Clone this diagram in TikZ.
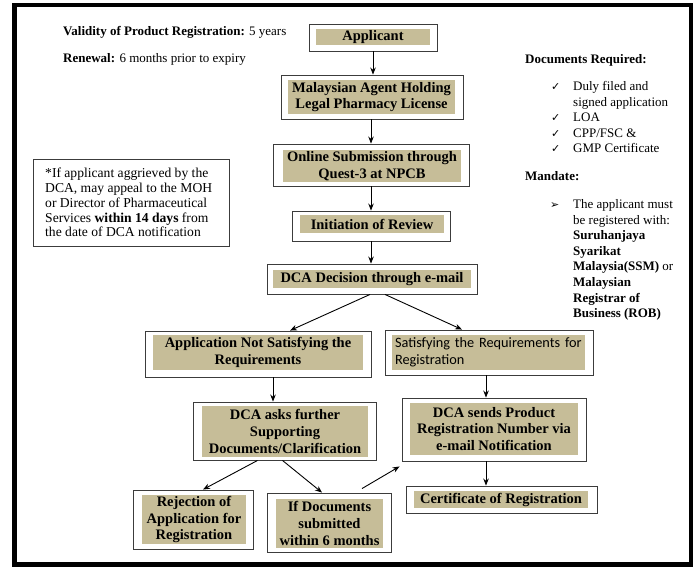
\documentclass[tikz,border=0pt]{standalone}
\usepackage{fontspec}
\setmainfont{Liberation Serif}[BoldFont={Liberation Serif Bold}, ItalicFont={Liberation Serif Italic}]
\newfontfamily\calibri{Carlito}
\newfontfamily\dejavu{DejaVu Sans}
\usetikzlibrary{arrows.meta}
\definecolor{tan}{RGB}{198,189,152}
\definecolor{boxline}{RGB}{60,60,60}
\tikzset{
  outerbox/.style={draw=boxline, line width=0.9pt, fill=white, inner sep=0pt},
  tanbox/.style={fill=tan, inner sep=0pt, align=center, font=\fontsize{14.5}{16.8}\selectfont\bfseries},
  arr/.style={-{Stealth[length=7pt,width=5.5pt]}, line width=0.9pt},
  side/.style={anchor=base west, inner sep=0pt, font=\fontsize{13}{15}\selectfont},
  bulletsym/.style={anchor=base west, inner sep=0pt, font=\dejavu\fontsize{11}{12}\selectfont},
}
\begin{document}
\begin{tikzpicture}[x=1pt,y=-1pt]
\useasboundingbox (0,0) rectangle (696,568);
\draw[line width=4.5pt] (14.5,5) rectangle (691,564.5);

% boxes
\node[outerbox, minimum width=128pt, minimum height=27pt] (app) at (373,37.5) {};
\node[tanbox, minimum width=114pt, minimum height=16pt] (app-t) at (373,37) {Applicant};

\node[outerbox, minimum width=182pt, minimum height=44pt] (mal) at (372,97) {};
\node[tanbox, minimum width=167pt, minimum height=34pt] (mal-t) at (371.5,97) {Malaysian Agent Holding\\Legal Pharmacy License};

\node[outerbox, minimum width=196pt, minimum height=42pt] (onl) at (371,165) {};
\node[tanbox, minimum width=178pt, minimum height=32pt] (onl-t) at (372,166) {Online Submission through\\Quest-3 at NPCB};

\node[outerbox, minimum width=158pt, minimum height=30pt] (ini) at (371,226) {};
\node[tanbox, minimum width=144pt, minimum height=18pt] (ini-t) at (372,224) {Initiation of Review};

\node[outerbox, minimum width=210pt, minimum height=30pt] (dca) at (372,279) {};
\node[tanbox, minimum width=198pt, minimum height=18pt] (dca-t) at (372,279) {DCA Decision through e-mail};

\node[outerbox, minimum width=226pt, minimum height=46pt] (ans) at (258,354) {};
\node[tanbox, minimum width=210pt, minimum height=35pt] (ans-t) at (258,352.5) {Application Not Satisfying the\\Requirements};

\node[outerbox, minimum width=208pt, minimum height=45pt] (sat) at (489,352.5) {};
\node[fill=tan, inner xsep=3pt, inner ysep=0pt, text width=187pt, align=left, minimum height=35pt,
      font=\calibri\fontsize{14.3}{16.7}\selectfont] (sat-t) at (488.5,352.5) {Satisfying the Requirements for\\Registration};

\node[outerbox, minimum width=183pt, minimum height=58pt] (ask) at (284.5,431) {};
\node[tanbox, minimum width=166pt, minimum height=51pt] (ask-t) at (285,431.5) {DCA asks further\\Supporting\\Documents/Clarification};

\node[outerbox, minimum width=184pt, minimum height=63pt] (snd) at (494,429.5) {};
\node[tanbox, minimum width=168pt, minimum height=52pt] (snd-t) at (494,429) {DCA sends Product\\Registration Number via\\e-mail Notification};

\node[outerbox, minimum width=191pt, minimum height=27pt] (cert) at (501.5,499.5) {};
\node[tanbox, minimum width=174pt, minimum height=17pt] (cert-t) at (501,499.5) {Certificate of Registration};

\node[outerbox, minimum width=120pt, minimum height=59pt] (rej) at (193,519.5) {};
\node[tanbox, minimum width=104pt, minimum height=49pt] (rej-t) at (194,519.5) {Rejection of\\Application for\\Registration};

\node[outerbox, minimum width=124pt, minimum height=59pt] (ifd) at (329,522.5) {};
\node[tanbox, minimum width=107pt, minimum height=49pt] (ifd-t) at (329.5,523.5) {If Documents\\submitted\\within 6 months};

% note box
\node[outerbox, minimum width=196pt, minimum height=87pt] (note) at (131,202.5) {};
\node[anchor=west, inner sep=0pt, align=left, font=\fontsize{13.6}{14.8}\selectfont] (note-t) at (45,202.5)
  {*If applicant aggrieved by the\\DCA, may appeal to the MOH\\or Director of Pharmaceutical\\Services \textbf{within 14 days} from\\the date of DCA notification};

% side texts
\node[side] (val) at (63,35) {\textbf{Validity of Product Registration:} 5 years};
\node[side] (ren) at (63,62.5) {\textbf{Renewal:} 6 months prior to expiry};

\node[side] (docs) at (525,63.5) {\textbf{Documents Required:}};
\node[bulletsym] (c1) at (551,90.5) {✓};
\node[side] (d1) at (573,90.5) {Duly filed and};
\node[side] (d1b) at (573,106) {signed application};
\node[bulletsym] (c2) at (551,121.5) {✓};
\node[side] (d2) at (573,121.5) {LOA};
\node[bulletsym] (c3) at (551,137) {✓};
\node[side] (d3) at (573,137) {CPP/FSC \&};
\node[bulletsym] (c4) at (551,152.5) {✓};
\node[side] (d4) at (573,152.5) {GMP Certificate};

\node[side] (man) at (525,180.5) {\textbf{Mandate:}};
\node[bulletsym] (b1) at (550,208.5) {➢};
\node[side] (m1) at (573,208.5) {The applicant must};
\node[side] (m2) at (573,224.1) {be registered with:};
\node[side] (m3) at (573,239.7) {\textbf{Suruhanjaya}};
\node[side] (m4) at (573,255.3) {\textbf{Syarikat}};
\node[side] (m5) at (573,270.9) {\textbf{Malaysia(SSM)} or};
\node[side] (m6) at (573,286.5) {\textbf{Malaysian}};
\node[side] (m7) at (573,302.1) {\textbf{Registrar of}};
\node[side] (m8) at (573,317.7) {\textbf{Business (ROB)}};

% connectors
\draw[arr] (app.south) -- (app.south |- mal.north);
\draw[arr] ([xshift=-1pt]mal.south) -- ([xshift=-1pt]mal.south |- onl.north);
\draw[arr] (onl.south) -- (onl.south |- ini.north);
\draw[arr] (ini.south) -- (ini.south |- dca.north);
\draw[arr] ([xshift=-2pt]dca.south) -- ([xshift=32pt]ans.north);
\draw[arr] ([xshift=13pt]dca.south) -- ([xshift=-27pt]sat.north);
\draw[arr] ([xshift=15pt]ans.south) -- ([xshift=15pt]ans.south |- ask.north);
\draw[arr] ([xshift=-3pt]sat.south) -- ([xshift=-3pt]sat.south |- snd.north);
\draw[arr] ([xshift=-8pt]snd.south) -- ([xshift=-8pt]snd.south |- cert.north);
\draw[arr] ([xshift=-27pt]ask.south) -- ([xshift=10pt]rej.north);
\draw[arr] ([xshift=-2pt]ask.south) -- ([xshift=-7pt]ifd.north);
\coordinate (ifd-start) at ([xshift=33pt,yshift=4pt]ifd.north);
\draw[arr] (ifd-start) -- ([shift={(-2pt,-5pt)}]snd.south west);
\end{tikzpicture}
\end{document}
